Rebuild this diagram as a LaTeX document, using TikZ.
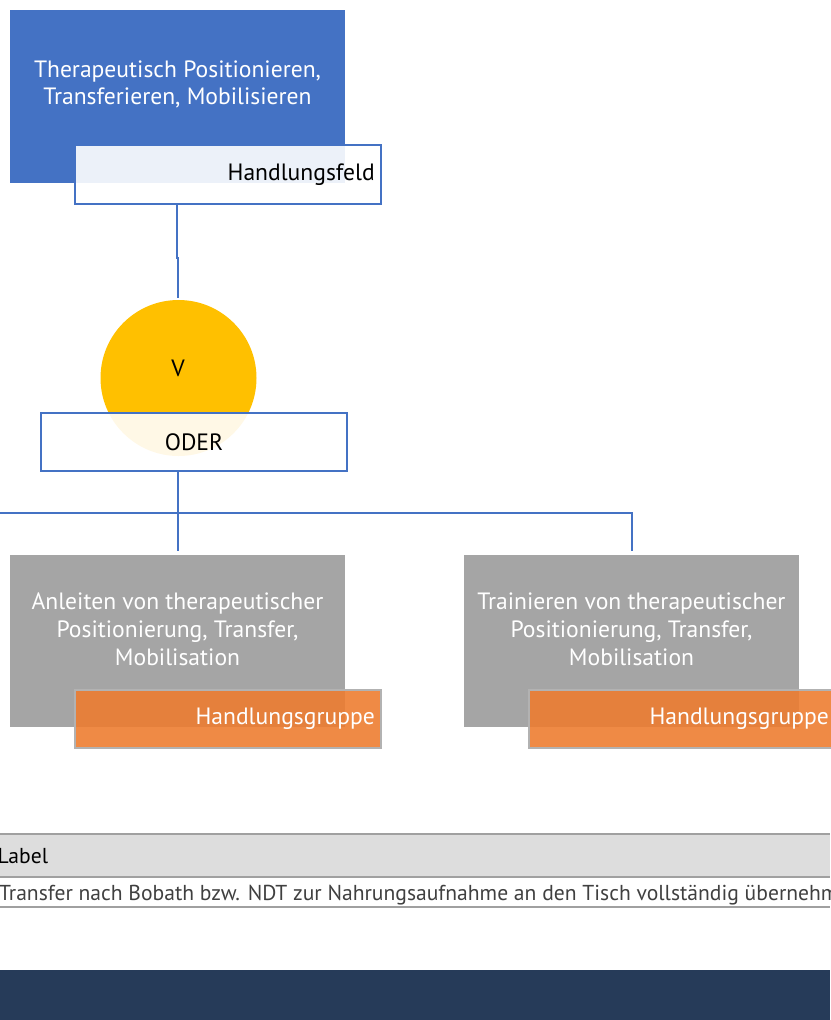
\documentclass[tikz,border=0pt]{standalone}
\usepackage{fontspec}
\setmainfont{PT Sans}
\usetikzlibrary{positioning}
\definecolor{cblue}{HTML}{4472C4}
\definecolor{cgold}{HTML}{FFC000}
\definecolor{cgray}{HTML}{A5A5A5}
\definecolor{corange}{HTML}{ED7D31}
\definecolor{cnavy}{HTML}{263B59}
\definecolor{crow}{HTML}{DDDDDD}
\definecolor{cline}{HTML}{A0A0A0}
\definecolor{ctext}{HTML}{404040}
\tikzset{
  box/.style={rectangle, inner sep=0pt, outer sep=0pt, draw=none},
  mainbox/.style={box, fill=cblue, minimum width=335pt, minimum height=173pt},
  groupbox/.style={box, fill=cgray, minimum width=335pt, minimum height=172pt},
  fieldlabel/.style={box, fill=white, fill opacity=0.9, draw=cblue, line width=1.6pt, minimum width=306pt, minimum height=59pt},
  grouplabel/.style={box, fill=corange, fill opacity=0.9, draw=cgray!85, line width=1.6pt, minimum width=306pt, minimum height=58pt},
  oderbox/.style={box, fill=white, fill opacity=0.9, draw=cblue, line width=1.6pt, minimum width=306pt, minimum height=58pt},
  conn/.style={draw=cblue, line width=1.6pt},
  bigtext/.style={font=\fontsize{23.6}{27.8}\selectfont, align=center, inner sep=0pt},
  small/.style={font=\fontsize{21.6}{24}\selectfont, text=ctext, inner sep=0pt, anchor=base west},
}
\begin{document}
\begin{tikzpicture}[x=1pt,y=-1pt]
\useasboundingbox (0,0) rectangle (830,1020);
% top field
\node[mainbox] (field) at (177.5,96.5) {};
\node[bigtext, text=white] (fieldtext) at (177.5,84.5) {Therapeutisch Positionieren,\\Transferieren, Mobilisieren};
\node[fieldlabel] (fieldlab) at (228,174.5) {};
\node[bigtext, text=black, anchor=east, text opacity=1] (fieldlabtext) at ([xshift=-6pt]fieldlab.east) {Handlungsfeld};
% connector to circle
\coordinate (c0) at (177,204);
\coordinate (j1) at (177,258);
\coordinate (j2) at (178,258);
\coordinate (c1) at (178,298);
\draw[conn] (c0) -- (j1) -- (j2) -- (c1);
% or circle
\node[circle, fill=cgold, minimum size=156pt, inner sep=0pt] (orc) at (178.5,378) {};
\node[bigtext] (vtext) at (178,368) {V};
\node[oderbox] (oder) at (194,442) {};
\node[bigtext, text opacity=1] (odertext) at (194,442) {ODER};
% branches
\coordinate (ob) at (178,471);
\coordinate (bj) at (178,513);
\coordinate (bl) at (0,513);
\coordinate (br) at (632,513);
\coordinate (dl) at (178,551);
\coordinate (dr) at (632,551);
\draw[conn] (ob) -- (bj);
\draw[conn] (bl) -- (br) -- (dr);
\draw[conn] (bj) -- (dl);
% left group
\node[groupbox] (gl) at (177.5,641) {};
\node[bigtext, text=white] (gltext) at (177.5,629.5) {Anleiten von therapeutischer\\Positionierung, Transfer,\\Mobilisation};
\node[grouplabel] (gllab) at (228,719) {};
\node[bigtext, text=white, anchor=east, text opacity=1] (gllabtext) at ([xshift=-6pt]gllab.east) {Handlungsgruppe};
% right group
\node[groupbox] (gr) at (631.5,641) {};
\node[bigtext, text=white] (grtext) at (631.5,629.5) {Trainieren von therapeutischer\\Positionierung, Transfer,\\Mobilisation};
\node[grouplabel] (grlab) at (682,719) {};
\node[bigtext, text=white, anchor=east, text opacity=1] (grlabtext) at ([xshift=-6pt]grlab.east) {Handlungsgruppe};
% table
\fill[crow] (0,834) rectangle (830,876);
\draw[cline, line width=2pt] (0,834) -- (830,834);
\draw[cline, line width=2pt] (0,876.5) -- (830,876.5);
\draw[cline, line width=2pt] (0,907) -- (830,907);
\node[small, text=black] (lbl) at (-2.5,863) {Label};
\node[small] (row) at (-1,900) {Transfer nach Bobath bzw. NDT zur Nahrungsaufnahme an den Tisch vollständig übernehmen};
% footer bar
\fill[cnavy] (0,970) rectangle (830,1020);
\end{tikzpicture}
\end{document}
